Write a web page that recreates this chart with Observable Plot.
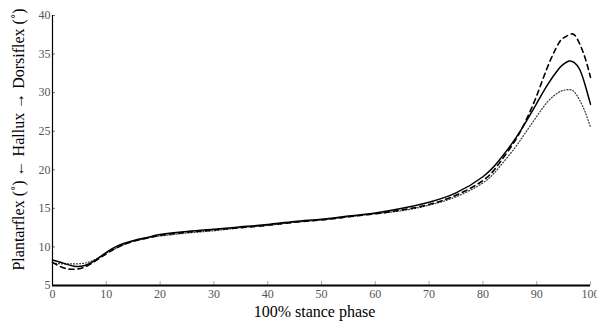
<!DOCTYPE html>
<html>
<head>
<meta charset="utf-8">
<script src="https://cdn.jsdelivr.net/npm/d3@7"></script>
<script src="https://cdn.jsdelivr.net/npm/@observablehq/plot@0.6"></script>
<style>
  html, body { margin: 0; padding: 0; background: #fff; }
</style>
</head>
<body>
<div id="chart"></div>
<script>
const stance = [0, 2, 4, 6, 8, 10, 12, 14, 16, 18, 20, 25, 30, 35, 40, 45, 50, 55, 60, 65, 70, 75, 80, 83, 86, 88, 90, 92, 94, 95, 96, 97, 98, 99, 100];
const solid = [8.3, 7.9, 7.5, 7.6, 8.3, 9.3, 10.1, 10.6, 11.0, 11.3, 11.6, 12.0, 12.3, 12.6, 12.9, 13.3, 13.6, 14.0, 14.4, 15.0, 15.8, 17.0, 19.1, 21.2, 24.0, 26.2, 28.6, 31.0, 33.0, 33.7, 34.1, 33.9, 33.0, 31.0, 28.5];
const dashed = [8.0, 7.3, 7.1, 7.4, 8.2, 9.1, 9.9, 10.5, 10.9, 11.2, 11.5, 11.9, 12.2, 12.5, 12.8, 13.2, 13.5, 13.9, 14.3, 14.8, 15.5, 16.7, 18.6, 20.8, 23.8, 26.4, 29.6, 33.3, 36.3, 37.1, 37.5, 37.5, 36.3, 34.5, 32.0];
const dotted = [7.9, 7.8, 7.8, 7.9, 8.4, 9.2, 9.9, 10.5, 10.9, 11.2, 11.4, 11.8, 12.1, 12.5, 12.8, 13.2, 13.5, 13.9, 14.3, 14.7, 15.4, 16.5, 18.3, 20.3, 22.9, 24.9, 26.9, 28.8, 30.0, 30.3, 30.4, 30.1, 29.0, 27.5, 25.5];
const xTicks = [0, 10, 20, 30, 40, 50, 60, 70, 80, 90, 100];
const yTicks = [5, 10, 15, 20, 25, 30, 35, 40];
const xLabel = "100% stance phase";
const yLabel = "Plantarflex (˚) ← Hallux → Dorsiflex (˚)";

const toRows = (vals) => stance.map((x, i) => ({x, y: vals[i]}));

const font = "'Liberation Serif', 'DejaVu Serif', serif";

const chart = Plot.plot({
  width: 597,
  height: 325,
  marginLeft: 52,
  marginRight: 7,
  marginTop: 15,
  marginBottom: 40,
  style: {fontFamily: font, background: "#fff"},
  x: {domain: [0, 100]},
  y: {domain: [5, 40]},
  marks: [
    Plot.axisX({ticks: xTicks, tickSize: -4, tickPadding: 8, stroke: "#aaa", fill: "#555", fontSize: 12, label: null}),
    Plot.axisY({ticks: yTicks, tickSize: -3, tickPadding: 5, stroke: "#777", fill: "#555", fontSize: 12, label: null}),
    Plot.ruleX([0], {stroke: "#000", strokeWidth: 1.2}),
    Plot.ruleY([5], {stroke: "#000", strokeWidth: 2}),
    Plot.line(toRows(dotted), {x: "x", y: "y", curve: "natural", stroke: "#333", strokeWidth: 1.2, strokeDasharray: "1,2"}),
    Plot.line(toRows(dashed), {x: "x", y: "y", curve: "natural", stroke: "#000", strokeWidth: 1.6, strokeDasharray: "5,4"}),
    Plot.line(toRows(solid), {x: "x", y: "y", curve: "natural", stroke: "#000", strokeWidth: 1.5}),
    Plot.text([xLabel], {frameAnchor: "bottom", textAnchor: "middle", lineAnchor: "middle", dy: 26, dx: -7, fontSize: 16, fill: "#000"}),
    Plot.text([yLabel], {frameAnchor: "left", textAnchor: "middle", lineAnchor: "middle", dx: -34, dy: -11, rotate: -90, fontSize: 16, fill: "#000"})
  ]
});
document.getElementById("chart").appendChild(chart);
</script>
</body>
</html>
